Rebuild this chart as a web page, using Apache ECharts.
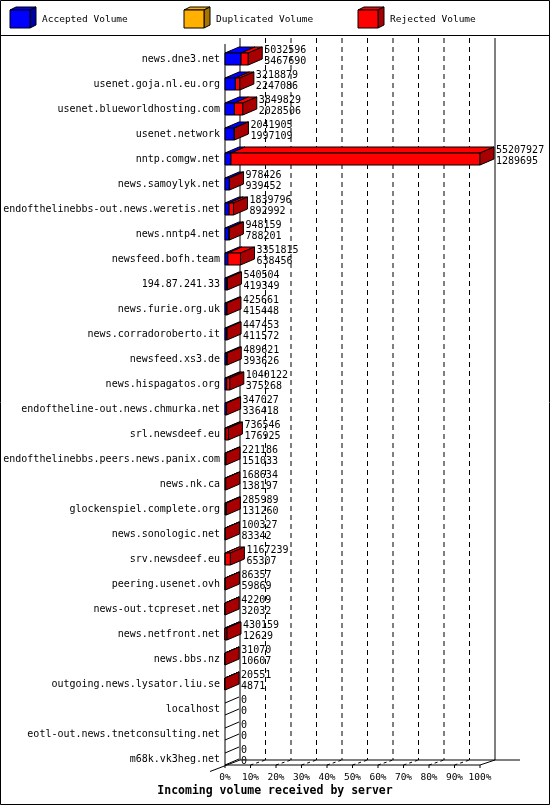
<!DOCTYPE html>
<html><head><meta charset="utf-8">
<script src="https://cdn.jsdelivr.net/npm/echarts@6/dist/echarts.min.js"></script>
<style>html,body{margin:0;padding:0;background:#fff}#c{width:550px;height:805px}</style>
</head><body><div id="c"></div>
<script>
const servers = [
  'news.dne3.net','usenet.goja.nl.eu.org','usenet.blueworldhosting.com','usenet.network',
  'nntp.comgw.net','news.samoylyk.net','endofthelinebbs-out.news.weretis.net','news.nntp4.net',
  'newsfeed.bofh.team','194.87.241.33','news.furie.org.uk','news.corradoroberto.it',
  'newsfeed.xs3.de','news.hispagatos.org','endoftheline-out.news.chmurka.net','srl.newsdeef.eu',
  'endofthelinebbs.peers.news.panix.com','news.nk.ca','glockenspiel.complete.org','news.sonologic.net',
  'srv.newsdeef.eu','peering.usenet.ovh','news-out.tcpreset.net','news.netfront.net',
  'news.bbs.nz','outgoing.news.lysator.liu.se','localhost','eotl-out.news.tnetconsulting.net',
  'm68k.vk3heg.net'
];
const totalVolume = [
  5032596,3218879,3849829,2041905,
  55207927,978426,1839796,948159,
  3351815,540504,425661,447453,
  489621,1040122,347027,736546,
  221186,168634,285989,100327,
  1167239,86357,42209,430159,
  31070,20551,0,0,
  0
];
const acceptedVolume = [
  3467690,2247086,2028506,1997109,
  1289695,939452,892992,788201,
  638456,419349,415448,411572,
  393626,375268,336418,176925,
  151033,138197,131260,83342,
  65307,59869,32032,12629,
  10607,4871,0,0,
  0
];
const duplicatedVolume = [
  0,0,0,0, 0,0,0,0, 0,0,0,0, 0,0,0,0, 0,0,0,0, 0,0,0,0, 0,0,0,0, 0
];
const tickLabels = ['0%','10%','20%','30%','40%','50%','60%','70%','80%','90%','100%'];
const seriesNames = ['Accepted Volume','Duplicated Volume','Rejected Volume'];
const seriesColors = [['#0000ff','#0000a8'],['#ffb000','#a87400'],['#ff0000','#a80000']];
const xTitle = 'Incoming volume received by server';

const FONT = "'DejaVu Sans Mono', monospace";
const maxTotal = Math.max.apply(null, totalVolume);
const barData = servers.map((s, i) => {
  const rej = totalVolume[i] - acceptedVolume[i] - duplicatedVolume[i];
  return [i, acceptedVolume[i] / maxTotal * 100, duplicatedVolume[i] / maxTotal * 100,
          rej / maxTotal * 100, totalVolume[i], acceptedVolume[i]];
});

function renderBar(params, api) {
  const i = api.value(0);
  const vals = [api.value(1), api.value(2), api.value(3)];
  const c = api.coord([0, i])[1];
  const H = 6, DX = 14, DY = -6;
  const ch = [];
  let cum = 0, lastDark = null;
  vals.forEach((v, k) => {
    if (!(v > 0)) return;
    const xs = api.coord([cum, i])[0], xe = api.coord([cum + v, i])[0];
    ch.push({type: 'polygon', shape: {points: [[xs, c - H], [xe, c - H], [xe + DX, c - H + DY], [xs + DX, c - H + DY]]},
      style: {fill: seriesColors[k][0], stroke: '#000', lineWidth: 1}});
    ch.push({type: 'rect', shape: {x: xs, y: c - H, width: xe - xs, height: 2 * H},
      style: {fill: seriesColors[k][0], stroke: '#000', lineWidth: 1}});
    cum += v; lastDark = seriesColors[k][1];
  });
  const xe = api.coord([cum, i])[0];
  if (cum === 0) {
    ch.push({type: 'polyline', shape: {points: [[xe, c - H], [xe + DX, c - H + DY]]}, style: {stroke: '#000', lineWidth: 1, fill: null}});
    ch.push({type: 'polyline', shape: {points: [[xe, c + H], [xe + DX, c + H + DY]]}, style: {stroke: '#000', lineWidth: 1, fill: null}});
  } else {
    ch.push({type: 'polygon', shape: {points: [[xe, c - H], [xe + DX, c - H + DY], [xe + DX, c + H + DY], [xe, c + H]]},
      style: {fill: lastDark, stroke: '#000', lineWidth: 1}});
  }
  const tx = xe + DX + 2;
  ch.push({type: 'text', style: {text: String(api.value(4)), x: tx, y: c - 8.5, fill: '#000', font: '10px ' + FONT, textAlign: 'left', textVerticalAlign: 'middle'}});
  ch.push({type: 'text', style: {text: String(api.value(5)), x: tx, y: c + 2.5, fill: '#000', font: '10px ' + FONT, textAlign: 'left', textVerticalAlign: 'middle'}});
  return {type: 'group', children: ch};
}

function renderFrame(params, api) {
  const n = servers.length;
  const f0 = api.coord([0, 0]);
  const fN = api.coord([100, n - 1]);
  const X0 = f0[0], X1 = fN[0];
  const yTopBack = f0[1] - 21, yTopFront = f0[1] - 15;
  const Yf = fN[1] + 6;
  const WX = 15, WY = -5;
  const ln = (pts, dash) => ({type: 'polyline', shape: {points: pts},
    style: {stroke: '#000', lineWidth: 1, fill: null, lineDash: dash || null}});
  const ch = [];
  for (let k = 1; k <= 9; k++) {
    const x = api.coord([k * 10, 0])[0] + WX;
    ch.push(ln([[x, yTopBack], [x, Yf + WY]], [5, 4]));
  }
  for (let k = 0; k <= 10; k++) {
    const x = api.coord([k * 10, 0])[0];
    ch.push(ln([[x, Yf], [x, Yf + 3]]));
    if (k > 0 && k < 10) ch.push(ln([[x, Yf], [x + WX, Yf + WY]], [3, 3]));
  }
  ch.push(ln([[X0, yTopFront], [X0, Yf]]));
  ch.push(ln([[X0 + WX, yTopBack], [X0 + WX, Yf + WY]]));
  ch.push(ln([[X1 + WX, yTopBack], [X1 + WX, Yf + WY]]));
  ch.push(ln([[X0 + WX, Yf + WY], [X1 + WX + 25, Yf + WY]]));
  ch.push(ln([[X0, Yf], [X1, Yf], [X1 + WX, Yf + WY]]));
  ch.push(ln([[X0 - WX, Yf - WY * 1.3], [X0 + WX, Yf + WY]]));
  return {type: 'group', children: ch};
}

const legendGraphics = [];
const legendX = [10, 184, 358];
seriesNames.forEach((name, k) => {
  const x = legendX[k], y = 10, w = 20, h = 18, dx = 6, dy = -3;
  legendGraphics.push({type: 'polygon', shape: {points: [[x, y], [x + w, y], [x + w + dx, y + dy], [x + dx, y + dy]]},
    style: {fill: seriesColors[k][0], stroke: '#000', lineWidth: 1}});
  legendGraphics.push({type: 'polygon', shape: {points: [[x + w, y], [x + w + dx, y + dy], [x + w + dx, y + h + dy], [x + w, y + h]]},
    style: {fill: seriesColors[k][1], stroke: '#000', lineWidth: 1}});
  legendGraphics.push({type: 'rect', shape: {x: x, y: y, width: w, height: h},
    style: {fill: seriesColors[k][0], stroke: '#000', lineWidth: 1}});
  legendGraphics.push({type: 'text', x: x + 32, y: 20,
    style: {text: name, fill: '#000', font: '9.5px ' + FONT, textVerticalAlign: 'middle'}});
});

const chart = echarts.init(document.getElementById('c'), null, {renderer: 'canvas'});
chart.setOption({
  animation: false,
  backgroundColor: '#fff',
  title: {
    text: xTitle, left: 'center', top: 785, padding: 0,
    textStyle: {fontFamily: FONT, fontWeight: 'bold', fontSize: 11.5, color: '#000'}
  },
  grid: {left: 225, right: 70, top: 46.5, bottom: 33.5, containLabel: false},
  xAxis: {
    type: 'value', min: 0, max: 100, interval: 10,
    axisLine: {show: false}, axisTick: {show: false}, splitLine: {show: false},
    axisLabel: {margin: 1.5, fontFamily: FONT, fontSize: 9.5, color: '#000',
      formatter: (v, idx) => tickLabels[Math.round(v / 10)]}
  },
  yAxis: {
    type: 'category', inverse: true, data: servers,
    axisLine: {show: false}, axisTick: {show: false}, splitLine: {show: false},
    axisLabel: {margin: 5, fontFamily: FONT, fontSize: 10, color: '#000', interval: 0}
  },
  graphic: [
    {type: 'rect', shape: {x: 0.5, y: 0.5, width: 549, height: 804}, style: {fill: null, stroke: '#000', lineWidth: 1}, z: 100},
    {type: 'line', shape: {x1: 0, y1: 35.5, x2: 550, y2: 35.5}, style: {stroke: '#000', lineWidth: 1}},
    ...legendGraphics
  ],
  series: [
    {type: 'custom', name: 'frame', renderItem: renderFrame, data: [[0, 0]], encode: {x: 1, y: 0}, clip: false, z: 1, silent: true},
    {type: 'custom', name: 'Volume', renderItem: renderBar, data: barData, encode: {x: [1, 2, 3], y: 0}, clip: false, z: 2}
  ]
});
</script></body></html>
